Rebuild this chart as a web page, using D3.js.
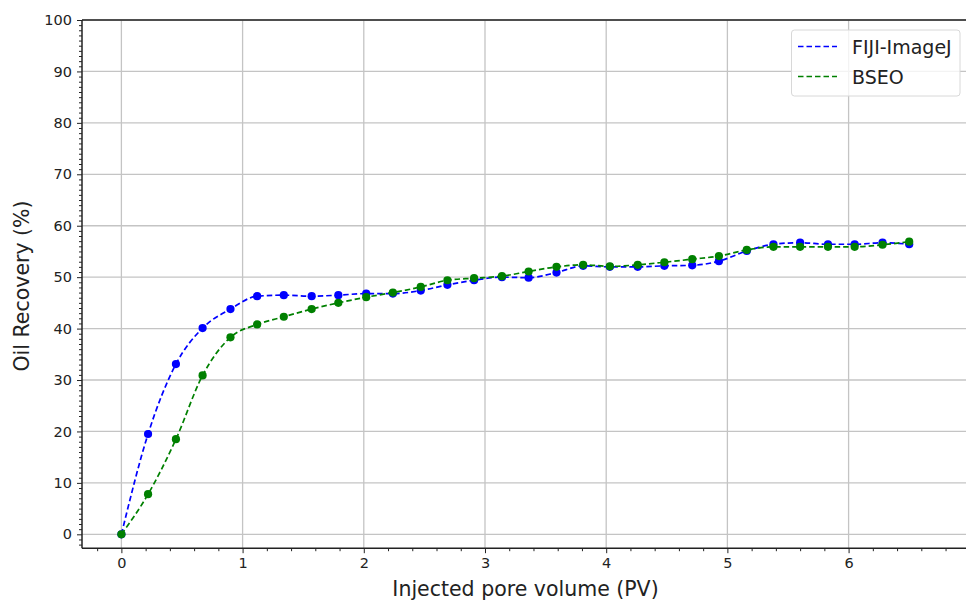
<!DOCTYPE html>
<html><head><meta charset="utf-8">
<script src="https://cdn.jsdelivr.net/npm/d3@7"></script>
<style>body{margin:0;background:#fff}svg{display:block}text{font-family:"DejaVu Sans",sans-serif}</style>
</head><body>
<svg id="c" width="966" height="601"></svg>
<script>
const pv = [0, 0.22, 0.45, 0.67, 0.9, 1.12, 1.34, 1.57, 1.79, 2.02, 2.24, 2.47, 2.69, 2.91, 3.14, 3.36, 3.59, 3.81, 4.03, 4.26, 4.48, 4.71, 4.93, 5.16, 5.38, 5.6, 5.83, 6.05, 6.28, 6.5];
const fiji = [0, 19.5, 33.1, 40.1, 43.8, 46.3, 46.5, 46.3, 46.5, 46.8, 46.8, 47.4, 48.5, 49.4, 50.0, 49.9, 50.9, 52.2, 52.0, 52.0, 52.2, 52.3, 53.1, 55.1, 56.4, 56.7, 56.4, 56.4, 56.7, 56.4];
const bseo = [0, 7.8, 18.5, 30.9, 38.3, 40.8, 42.3, 43.8, 45.0, 46.1, 47.0, 48.1, 49.4, 49.8, 50.2, 51.1, 52.0, 52.4, 52.1, 52.4, 52.9, 53.5, 54.1, 55.3, 55.9, 55.9, 55.9, 55.9, 56.3, 56.9];
const seriesNames = ["FIJI-ImageJ", "BSEO"];
const seriesColors = ["#0000ff", "#008000"];
const xTicks = [0, 1, 2, 3, 4, 5, 6, 7];
const yTicks = [0, 10, 20, 30, 40, 50, 60, 70, 80, 90, 100];

const svg = d3.select("#c");
const L = 82, T = 20, B = 548.2;
const x = d3.scaleLinear().domain([-0.325, 7.2]).range([L, L + 7.525 * 121.2]);
const y = d3.scaleLinear().domain([-2.7, 100]).range([B, T]);
const R = x.range()[1];

const g = svg.append("g");
// grid
g.selectAll(".gx").data(xTicks).join("line")
  .attr("x1", d => x(d)).attr("x2", d => x(d)).attr("y1", T).attr("y2", B)
  .attr("stroke", "#c4c4c4").attr("stroke-width", 1.3);
g.selectAll(".gy").data(yTicks).join("line")
  .attr("x1", L).attr("x2", R).attr("y1", d => y(d)).attr("y2", d => y(d))
  .attr("stroke", "#c4c4c4").attr("stroke-width", 1.3);

// axes
const xMinor = d3.range(-0.2, 7.2, 0.2).filter(v => Math.abs(v - Math.round(v)) > 0.01);
const yMinor = d3.range(-2, 100, 1).filter(v => v % 10 !== 0);
const ax = svg.append("g").attr("transform", `translate(0,${B})`);
ax.call(d3.axisBottom(x).tickValues(xMinor).tickSize(3).tickFormat(""));
ax.append("g").call(d3.axisBottom(x).tickValues(xTicks).tickSize(5).tickPadding(5).tickFormat(d3.format("d")));
const ay = svg.append("g").attr("transform", `translate(${L},0)`);
ay.call(d3.axisLeft(y).tickValues(yMinor).tickSize(3).tickFormat(""));
ay.append("g").call(d3.axisLeft(y).tickValues(yTicks).tickSize(5).tickPadding(5).tickFormat(d3.format("d")));
svg.selectAll(".domain").remove();
svg.selectAll(".tick line").attr("stroke", "#222").attr("stroke-width", 1);
svg.selectAll(".tick text").attr("font-size", 14.5).attr("fill", "#222").attr("font-family", "DejaVu Sans");

// spines
svg.append("line").attr("x1", L).attr("x2", L).attr("y1", T).attr("y2", B).attr("stroke", "#222").attr("stroke-width", 1.5);
svg.append("line").attr("x1", L).attr("x2", R).attr("y1", B).attr("y2", B).attr("stroke", "#222").attr("stroke-width", 1.5);
svg.append("line").attr("x1", L).attr("x2", R).attr("y1", T).attr("y2", T).attr("stroke", "#222").attr("stroke-width", 1.5);

// series
const data = [fiji, bseo];
const line = d3.line().x((d, i) => x(pv[i])).y(d => y(d)).curve(d3.curveMonotoneX);
data.forEach((vals, k) => {
  svg.append("path").datum(vals).attr("d", line).attr("fill", "none")
    .attr("stroke", seriesColors[k]).attr("stroke-width", 1.7).attr("stroke-dasharray", "5.5,3");
  svg.append("g").selectAll("circle").data(vals).join("circle")
    .attr("cx", (d, i) => x(pv[i])).attr("cy", d => y(d)).attr("r", 4.1).attr("fill", seriesColors[k]);
});

// labels
svg.append("text").attr("x", 525.5).attr("y", 595.5).attr("text-anchor", "middle")
  .attr("font-size", 20.5).attr("fill", "#222").text("Injected pore volume (PV)");
svg.append("text").attr("transform", "translate(29,286) rotate(-90)").attr("text-anchor", "middle")
  .attr("font-size", 20.5).attr("fill", "#222").text("Oil Recovery (%)");

// legend
const lg = svg.append("g");
lg.append("rect").attr("x", 791.5).attr("y", 30).attr("width", 168.5).attr("height", 66).attr("rx", 3)
  .attr("fill", "#fff").attr("fill-opacity", 0.8).attr("stroke", "#d8d8d8").attr("stroke-width", 1);
seriesNames.forEach((n, k) => {
  const yy = 46.5 + k * 30;
  lg.append("line").attr("x1", 798).attr("x2", 837).attr("y1", yy).attr("y2", yy)
    .attr("stroke", seriesColors[k]).attr("stroke-width", 1.7).attr("stroke-dasharray", "5.5,3");
  lg.append("text").attr("x", 852).attr("y", yy + 7).attr("font-size", 19).attr("fill", "#222").text(n);
});
</script>
</body></html>
